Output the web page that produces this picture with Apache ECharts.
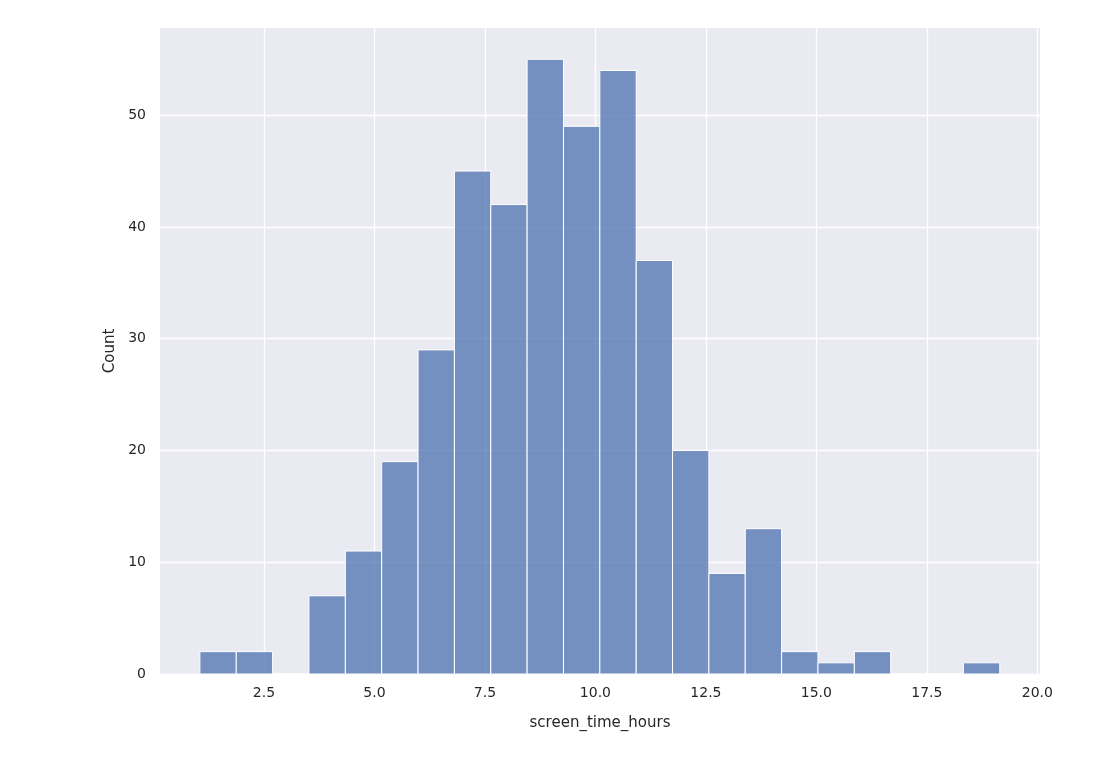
<!DOCTYPE html>
<html><head><meta charset="utf-8">
<script src="https://cdn.jsdelivr.net/npm/echarts@6/dist/echarts.min.js"></script>
<style>html,body{margin:0;padding:0;background:#fff}#c{width:1115px;height:780px}</style>
</head><body><div id="c"></div>
<script>
const binStart = 1.05;
const binWidth = 0.8227;
const counts = [2,2,0,7,11,19,29,45,42,55,49,54,37,20,9,13,2,1,2,0,0,1];
const xTicks = [2.5,5.0,7.5,10.0,12.5,15.0,17.5,20.0];
const yTicks = [0,10,20,30,40,50];
const data = counts.map((c,i)=>[binStart+i*binWidth, binStart+(i+1)*binWidth, c]);
const chart = echarts.init(document.getElementById('c'));
const font = 'DejaVu Sans';
chart.setOption({
  animation:false,
  grid:{left:160,right:75,top:28,bottom:106,show:true,backgroundColor:'#EAEAF2',borderWidth:0},
  xAxis:{type:'value',min:0.147,max:20.06,name:'screen_time_hours',nameLocation:'middle',nameGap:42,
    nameTextStyle:{color:'#262626',fontSize:15,fontFamily:font},
    axisLine:{show:false},axisTick:{show:false,customValues:xTicks},
    axisLabel:{customValues:xTicks,color:'#262626',fontSize:14,fontFamily:font,margin:12,formatter:v=>v.toFixed(1)},
    splitLine:{show:true,lineStyle:{color:'#fff',width:1.3}}},
  yAxis:{type:'value',min:0,max:57.8,name:'Count',nameLocation:'middle',nameGap:42,
    nameTextStyle:{color:'#262626',fontSize:15,fontFamily:font},
    axisLine:{show:false},axisTick:{show:false,customValues:yTicks},
    axisLabel:{customValues:yTicks,color:'#262626',fontSize:14,fontFamily:font,margin:14},
    splitLine:{show:true,lineStyle:{color:'#fff',width:1.3}}},
  series:[{type:'custom',data:data,encode:{x:[0,1],y:2},
    renderItem:(p,api)=>{
      const a=api.coord([api.value(0),api.value(2)]);
      const b=api.coord([api.value(1),0]);
      return {type:'rect',shape:{x:a[0],y:a[1],width:b[0]-a[0],height:b[1]-a[1]},
        style:{fill:'rgba(76,114,176,0.75)',stroke:'#fff',lineWidth:1}};
    }}]
});
</script></body></html>
